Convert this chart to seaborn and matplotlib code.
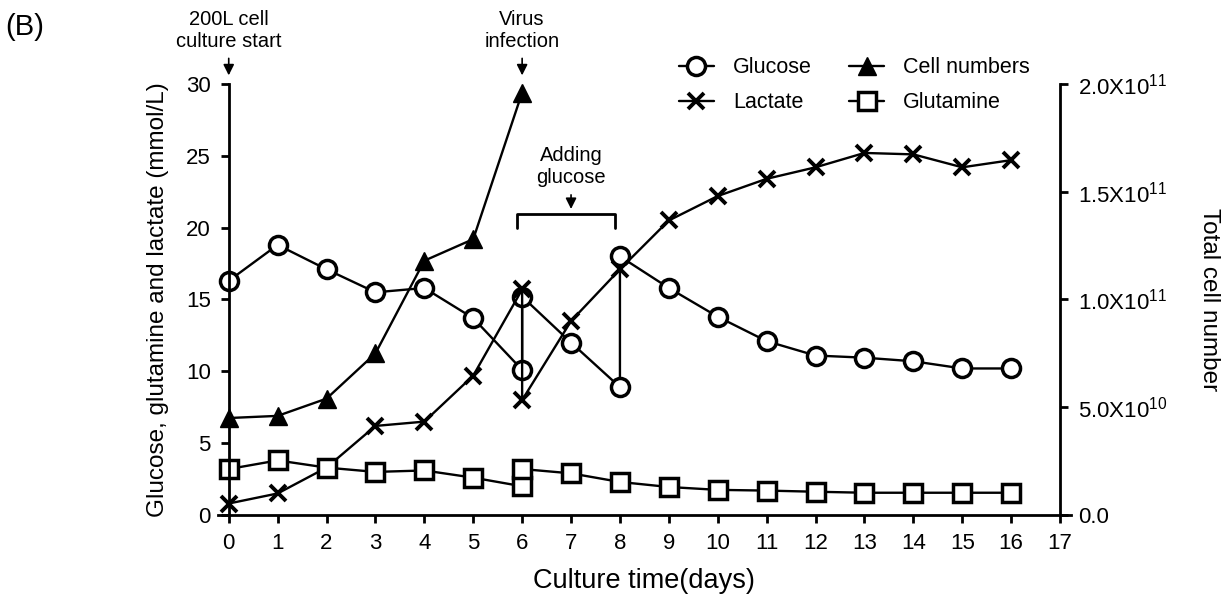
import matplotlib
matplotlib.use('Agg')
import matplotlib.pyplot as plt
import seaborn as sns

# values
days_glucose = [0, 1, 2, 3, 4, 5, 6, 6, 7, 8, 8, 9, 10, 11, 12, 13, 14, 15, 16]
glucose = [16.3, 18.8, 17.1, 15.5, 15.8, 13.7, 10.1, 15.2, 12.0, 8.9, 18.0,
           15.8, 13.8, 12.1, 11.1, 10.95, 10.7, 10.2, 10.2]

days_lactate = [0, 1, 2, 3, 4, 5, 6, 6, 7, 8, 9, 10, 11, 12, 13, 14, 15, 16]
lactate = [0.8, 1.5, 3.3, 6.2, 6.5, 9.7, 15.7, 8.0, 13.5, 17.1, 20.5, 22.2,
           23.4, 24.2, 25.2, 25.1, 24.2, 24.7]

days_glutamine = [0, 1, 2, 3, 4, 5, 6, 6, 7, 8, 9, 10, 11, 12, 13, 14, 15, 16]
glutamine = [3.2, 3.8, 3.3, 3.0, 3.1, 2.6, 2.0, 3.2, 2.9, 2.3, 1.95, 1.75,
             1.7, 1.62, 1.55, 1.55, 1.55, 1.55]

days_cells = [0, 1, 2, 3, 4, 5, 6]
cells = [4.5e10, 4.6e10, 5.4e10, 7.5e10, 1.18e11, 1.28e11, 1.96e11]

x_ticks = list(range(0, 18))
left_ticks = [0, 5, 10, 15, 20, 25, 30]
right_ticks = [0, 5e10, 1e11, 1.5e11, 2e11]
right_labels = ['0.0', '5.0X10$^{10}$', '1.0X10$^{11}$', '1.5X10$^{11}$', '2.0X10$^{11}$']

sns.set_style('ticks')
plt.rcParams['font.family'] = ['Liberation Sans', 'DejaVu Sans']
plt.rcParams['mathtext.default'] = 'regular'
for key in ['text.color', 'axes.labelcolor', 'xtick.color', 'ytick.color', 'axes.edgecolor']:
    plt.rcParams[key] = 'black'

fig = plt.figure(figsize=(12.28, 6.02), dpi=100)
ax = fig.add_axes([0.1775, 0.1445, 0.872 - 0.1775, 0.8605 - 0.1445])
ax2 = ax.twinx()

line_kw = dict(color='black', linewidth=1.7, sort=False, estimator=None,
               markeredgecolor='black', clip_on=False)

sns.lineplot(x=days_glucose, y=glucose, ax=ax, marker='o', markersize=13,
             markerfacecolor='white', markeredgewidth=2.5, label='Glucose', **line_kw)
sns.lineplot(x=days_lactate, y=lactate, ax=ax, marker='x', markersize=12,
             markeredgewidth=2.8, label='Lactate', **line_kw)
sns.lineplot(x=days_glutamine, y=glutamine, ax=ax, marker='s', markersize=13,
             markerfacecolor='white', markeredgewidth=2.5, label='Glutamine', **line_kw)
sns.lineplot(x=days_cells, y=cells, ax=ax2, marker='^', markersize=13,
             markerfacecolor='black', markeredgewidth=1, label='Cell numbers', **line_kw)

ax.set_xlim(-0.22, 17.22)
ax.set_ylim(0, 30)
ax2.set_ylim(0, 2e11)
ax.set_xticks(x_ticks)
ax.set_yticks(left_ticks)
ax2.set_yticks(right_ticks)
ax2.set_yticklabels(right_labels)

for a in (ax, ax2):
    a.spines['top'].set_visible(False)
    for s in a.spines.values():
        s.set_linewidth(2)
    a.tick_params(direction='out', length=6, width=2, labelsize=16, pad=7)
ax.spines['right'].set_visible(False)
ax2.spines['left'].set_visible(False)
ax2.spines['bottom'].set_visible(False)
ax.spines['left'].set_position(('data', 0))
ax2.spines['right'].set_position(('data', 17))

ax.set_xlabel('Culture time(days)', fontsize=19.5, labelpad=10)
ax.set_ylabel('Glucose, glutamine and lactate (mmol/L)', fontsize=17.5, labelpad=12)
ax2.set_ylabel('Total cell number', fontsize=17.5, rotation=270, labelpad=38)

# legend from both axes
h1, l1 = ax.get_legend_handles_labels()
h2, l2 = ax2.get_legend_handles_labels()
order = [h1[0], h1[1], h2[0], h1[2]]
labels = ['Glucose', 'Lactate', 'Cell numbers', 'Glutamine']
if ax.get_legend():
    ax.get_legend().remove()
if ax2.get_legend():
    ax2.get_legend().remove()
fig.legend(order, labels, ncol=2, frameon=False, fontsize=15.5,
           loc='upper left', bbox_to_anchor=(0.553, 0.905),
           handlelength=1.6, handletextpad=0.9, columnspacing=1.75,
           labelspacing=0.65, borderpad=0, borderaxespad=0)

# annotations
arrow = dict(arrowstyle='-|>', color='black', lw=1.2, mutation_scale=16, shrinkA=3, shrinkB=0)
ax.annotate('200L cell\nculture start', xy=(0, 30.6), xytext=(0, 32.3),
            ha='center', va='bottom', fontsize=14.5, arrowprops=arrow,
            annotation_clip=False)
ax.annotate('Virus\ninfection', xy=(6, 30.6), xytext=(6, 32.3),
            ha='center', va='bottom', fontsize=14.5, arrowprops=arrow,
            annotation_clip=False)
ax.annotate('Adding\nglucose', xy=(7.0, 21.3), xytext=(7.0, 22.8),
            ha='center', va='bottom', fontsize=14.5, arrowprops=arrow,
            annotation_clip=False)
ax.plot([5.9, 5.9, 7.9, 7.9], [20.0, 20.95, 20.95, 20.0], color='black', lw=2)

fig.text(0.004, 0.955, '(B)', fontsize=21, ha='left', va='center')

fig.savefig('out.png', dpi=100)
